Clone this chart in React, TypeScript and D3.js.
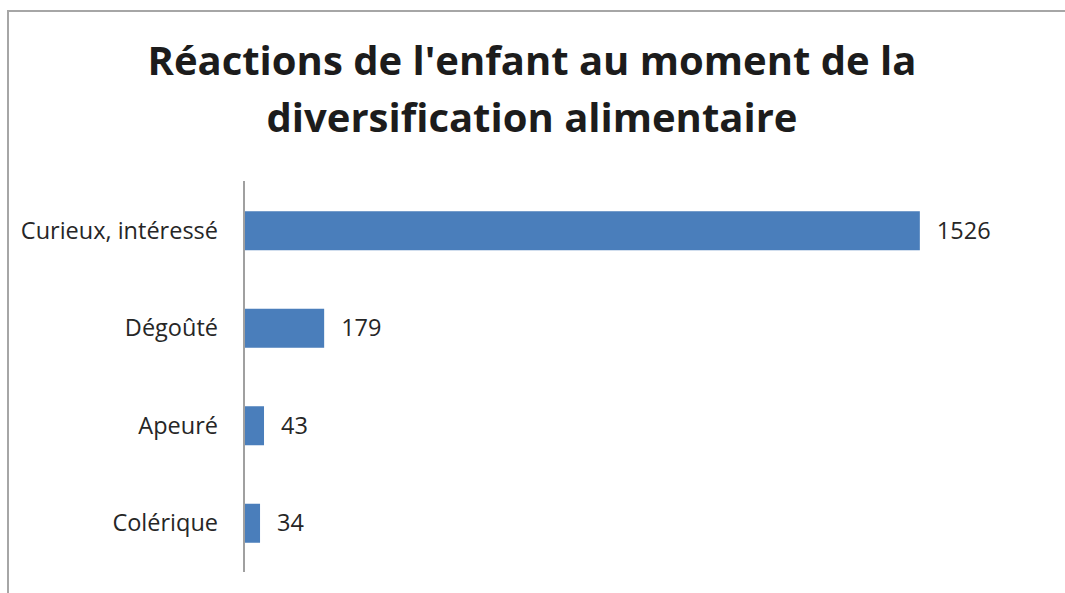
import React from "react";
import * as d3 from "d3";

const categories = ["Curieux, intéressé", "Dégoûté", "Apeuré", "Colérique"];
const values = [1526, 179, 43, 34];
const titleLines = ["Réactions de l'enfant au moment de la", "diversification alimentaire"];

const W = 1065;
const H = 593;

export default function App() {
  const x = d3.scaleLinear().domain([0, 1800]).range([245, 1041]);
  const y = d3.scaleBand<string>().domain(categories).range([182, 572]).paddingInner(0.6).paddingOuter(0.3);
  const font = "'Open Sans', sans-serif";
  return (
    <svg width={W} height={H} style={{ position: "absolute", left: 0, top: 0 }}>
      <rect x={0} y={0} width={W} height={H} fill="#fff" />
      <path d={`M8,${H} L8,11 L${W},11`} fill="none" stroke="#a6a6a6" strokeWidth={2} />
      {titleLines.map((t, i) => (
        <text key={i} x={532} y={75 + i * 57} textAnchor="middle" fontFamily={font} fontWeight={700} fontSize={40} fill="#1c1c1c">
          {t}
        </text>
      ))}
      {categories.map((c, i) => (
        <g key={c}>
          <rect x={x(0)} y={y(c)!} width={x(values[i]) - x(0)} height={y.bandwidth()} fill="#4a7ebb" />
          <text x={218} y={y(c)! + y.bandwidth() / 2} dy="0.35em" textAnchor="end" fontFamily={font} fontSize={23.5} fill="#262626">
            {c}
          </text>
          <text x={x(values[i]) + 17} y={y(c)! + y.bandwidth() / 2} dy="0.35em" fontFamily={font} fontSize={23.5} fill="#262626">
            {values[i]}
          </text>
        </g>
      ))}
      <line x1={244} x2={244} y1={181} y2={572} stroke="#a0a0a0" strokeWidth={2} />
    </svg>
  );
}
